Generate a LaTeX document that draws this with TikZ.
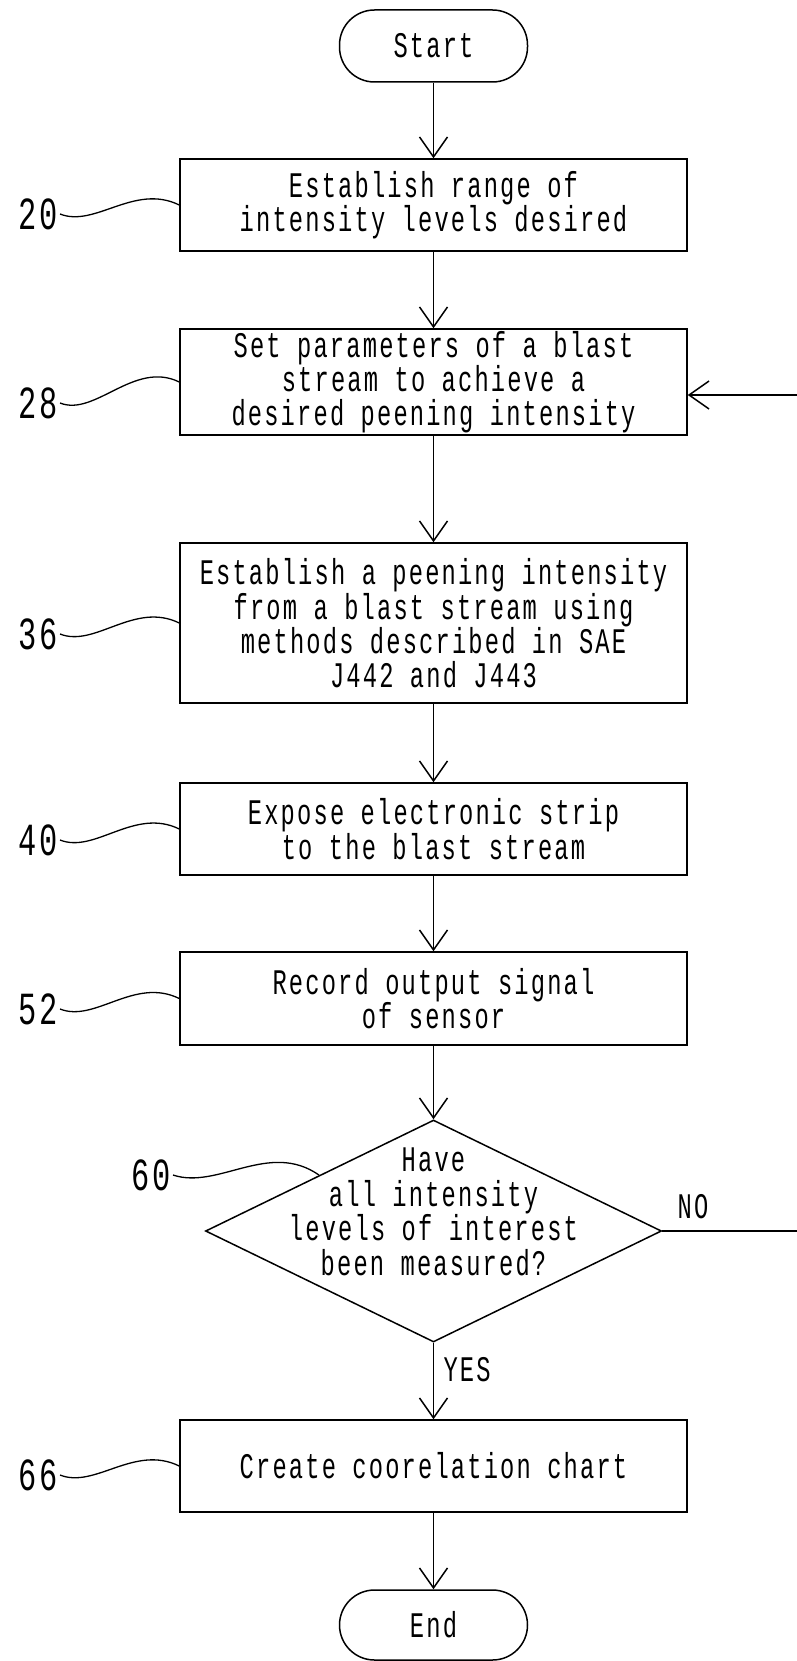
\documentclass[tikz,border=0pt]{standalone}
\usepackage{fontspec}
\setmainfont{Liberation Mono}[FakeStretch=0.66,LetterSpace=6]
\usepackage{tikz}
\usetikzlibrary{arrows.meta,calc,shapes.geometric}

\newcommand{\boxfont}{\fontsize{36}{33.5}\selectfont}
\newcommand{\numfont}{\fontsize{46}{46}\selectfont}

\begin{document}
\begin{tikzpicture}[x=1pt,y=-1pt,line width=1.5pt,
    stepbox/.style={draw,minimum width=507pt,inner sep=0pt,align=center,font=\boxfont},
    term/.style={draw,rounded corners=35pt,minimum width=188pt,inner sep=0pt,font=\boxfont},
    decision/.style={draw,diamond,minimum width=456pt,minimum height=222pt,inner sep=0pt},
    num/.style={anchor=east,inner sep=2pt,font=\numfont},
    flow/.style={-{Straight Barb[length=20pt,width=28pt]}}]

    \useasboundingbox (0,0) rectangle (797,1661);
    \clip (0,0) rectangle (797,1661);

    \node (start) [term,minimum height=72pt] at (433.5,46) {Start};
    \node (box20) [stepbox,minimum height=92pt] at (433.5,205) {Establish range of\\intensity levels desired};
    \node (box28) [stepbox,minimum height=106pt] at (433.5,382) {Set parameters of a blast\\stream to achieve a\\desired peening intensity};
    \node (box36) [stepbox,minimum height=160pt] at (433.5,623) {Establish a peening intensity\\from a blast stream using\\methods described in SAE\\J442 and J443};
    \node (box40) [stepbox,minimum height=92pt] at (433.5,829) {Expose electronic strip\\to the blast stream};
    \node (box52) [stepbox,minimum height=93pt] at (433.5,998.5) {Record output signal\\of sensor};
    \node (dec)   [decision] at (433.5,1231) {};
    \node (dectext) [align=center,font=\fontsize{36}{34.5}\selectfont] at (433.5,1212) {Have\\all intensity\\levels of interest\\been measured?};
    \node (box66) [stepbox,minimum height=92pt] at (433.5,1466) {Create coorelation chart};
    \node (end)   [term,minimum height=70pt] at (433.5,1625) {End};

    \draw [flow] (start) -- (box20);
    \draw [flow] (box20) -- (box28);
    \draw [flow] (box28) -- (box36);
    \draw [flow] (box36) -- (box40);
    \draw [flow] (box40) -- (box52);
    \draw [flow] (box52) -- (dec);
    \draw [flow] (dec) -- (box66) node [pos=0.35,right=6pt,font=\boxfont] (yes) {YES};
    \draw [flow] (box66) -- (end);

    \draw [flow] (dec.east) -- ++(200,0) coordinate (loop-end) |- ([yshift=-13pt]box28.east);
    \node (no) [font=\boxfont] at (693,1207) {NO};

    \node (n20) [num] at (60,214) {20};
    \node (n28) [num] at (60,403) {28};
    \node (n36) [num] at (60,634) {36};
    \node (n40) [num] at (60,840) {40};
    \node (n52) [num] at (60,1009) {52};
    \node (n66) [num] at (60,1475) {66};
    \node (n60) [num] at (173,1175) {60};

    \foreach \n in {20,28,36,40,52,66}
      \draw [line width=1.3pt] (n\n.east) .. controls +(35,14) and +(-45,-22) .. (box\n.west);
    \draw [line width=1.3pt] (n60.east) .. controls +(45,15) and +(-50,-35) .. ($(dec.west)!0.5!(dec.north)$);

\end{tikzpicture}
\end{document}
